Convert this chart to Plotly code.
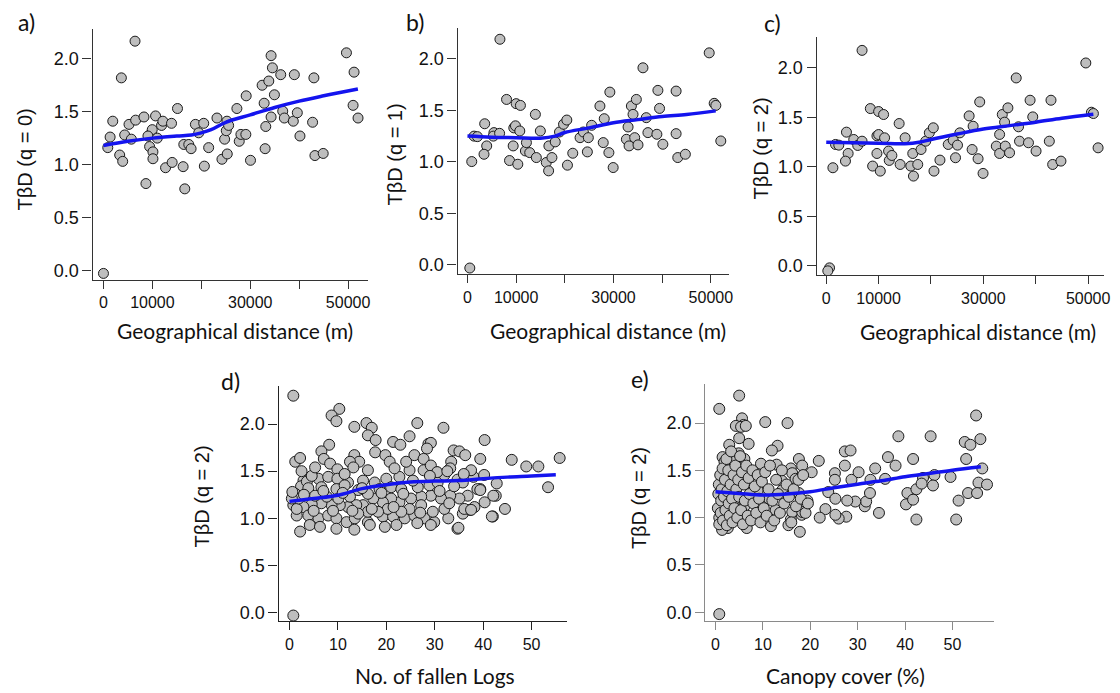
import plotly.graph_objects as go

# ---------------- DATA ----------------
a_pts = [(0,-0.03),(6450,2.167),(3660,1.82),(1900,1.41),(1360,1.26),(880,1.16),(3320,1.09),(3930,1.03),
         (4340,1.28),(5220,1.38),(5700,1.24),(6580,1.42),(8280,1.45),(8680,0.82),(9430,1.17),(9840,1.30),
         (9970,1.33),(10110,1.12),(10110,1.055),(9090,1.27),(10650,1.46),(11000,1.25),(11870,1.37),(12140,1.41),
         (12690,0.97),(13910,1.39),(14040,1.02),(15130,1.53),(16280,0.98),(16620,0.77),(16420,1.19),(17440,1.19),
         (17910,1.15),(18790,1.38),(19470,1.30),(20490,1.39),(20620,0.985),(21500,1.16),(23200,1.44),(24220,1.05),
         (24760,1.24),(25100,1.32),(25240,1.41),(25300,1.10),(25580,1.37),(27270,1.53),(27750,1.22),(28090,1.285),
         (29100,1.285),(29170,1.65),(30050,1.04),(33040,1.15),(33170,1.36),(32840,1.58),(32430,1.75),(33790,1.79),
         (34260,2.03),(34530,1.915),(34940,1.66),(34260,1.45),(36230,1.85),(36640,1.505),(36970,1.44),(39010,1.85),
         (38800,1.41),(39620,1.49),(40160,1.27),(43010,1.82),(42740,1.40),(43220,1.085),(44910,1.105),(49660,2.057),
         (51220,1.874),(51020,1.56),(52030,1.44)]
a_fit_x = [0,5000,10000,15000,18000,20000,22000,25000,30000,35000,40000,45000,52000]
a_fit_y = [1.18,1.22,1.25,1.27,1.28,1.30,1.33,1.40,1.47,1.54,1.60,1.65,1.715]

b_pts = [(480,-0.03),(6670,2.19),(880,1.003),(1360,1.25),(2040,1.245),(3540,1.37),(3950,1.155),(3400,1.074),
         (5440,1.284),(5310,1.25),(6600,1.277),(8030,1.606),(8640,1.013),(9520,1.33),(9860,1.35),(9390,1.155),
         (10000,1.565),(10340,0.977),(10880,1.548),(10750,1.30),(11900,1.106),(12110,1.187),(12790,1.09),(13950,1.461),
         (14150,1.042),(14970,1.30),(16190,0.994),(16670,0.913),(16730,1.155),(17350,1.042),(18030,1.194),(18910,1.29),
         (19730,1.365),(20410,1.406),(20540,0.968),(21630,1.084),(23130,1.235),(23810,1.29),(24630,1.097),(24830,1.235),
         (25510,1.355),(27210,1.542),(27890,1.187),(28100,1.419),(29050,1.09),(29250,1.677),(29930,0.945),(32650,1.219),
         (33200,1.155),(32990,1.339),(33670,1.542),(34010,1.461),(34690,1.606),(34350,1.235),(35030,1.165),(36050,1.913),
         (36730,1.429),(37070,1.284),(38910,1.268),(39120,1.694),(39460,1.519),(40140,1.171),(42860,1.274),(42860,1.687),
         (43200,1.042),(44760,1.074),(49660,2.058),(50680,1.568),(51020,1.548),(52040,1.203)]
b_fit_x = [0,5000,10000,15000,18000,20000,25000,30000,35000,40000,45000,51000]
b_fit_y = [1.25,1.24,1.235,1.23,1.25,1.285,1.33,1.38,1.41,1.44,1.46,1.495]

c_pts = [(630,-0.02),(300,-0.05),(6840,2.174),(1270,0.99),(1770,1.225),(2400,1.218),(3860,1.349),(4180,1.134),
         (3670,1.057),(5250,1.275),(6010,1.215),(6840,1.258),(8420,1.587),(8860,1.007),(9680,1.312),(10000,1.325),
         (9680,1.134),(10000,1.557),(10320,0.956),(10950,1.527),(11140,1.292),(11900,1.158),(12030,1.064),(12530,1.114),
         (13920,1.436),(14110,1.023),(15060,1.292),(16140,1.007),(16650,0.906),(16520,1.134),(17470,1.023),(18100,1.174),
         (18990,1.258),(19680,1.342),(20440,1.393),(20570,0.956),(21710,1.067),(23290,1.225),(24240,1.268),(24680,1.091),
         (25060,1.218),(25510,1.342),(27280,1.513),(27850,1.174),(28040,1.409),(28990,1.081),(29300,1.654),(29940,0.933),
         (32470,1.208),(33100,1.134),(33100,1.326),(33610,1.527),(34050,1.45),(34680,1.594),(34180,1.208),(35000,1.141),
         (36270,1.896),(36710,1.403),(36900,1.258),(38610,1.242),(38920,1.671),(39430,1.503),(40060,1.158),(42590,1.258),
         (42910,1.671),(43230,1.023),(44810,1.057),(49560,2.047),(50630,1.55),(51010,1.537),(51900,1.191)]
c_fit_x = [0,10000,15000,18000,20000,25000,30000,35000,40000,45000,51000]
c_fit_y = [1.248,1.237,1.232,1.25,1.275,1.33,1.38,1.415,1.45,1.49,1.53]

d_pts = [(0.8,2.30),(0.8,-0.03),(10.3,2.16),(8.7,2.09),(9.7,2.03),(13.4,1.97),(15.9,2.01),(17.0,1.96),(16.2,1.88),
         (17.8,1.83),(26.4,2.01),(31.8,1.96),(24.8,1.87),(21.4,1.81),(22.9,1.78),(28.7,1.79),(29.2,1.80),(28.4,1.74),
         (40.3,1.83),(8.2,1.78),(6.6,1.71),(7.1,1.63),(8.4,1.58),(1.2,1.60),(2.2,1.64),(13.4,1.67),(14.4,1.60),
         (17.7,1.70),(19.8,1.67),(20.7,1.60),(25.8,1.67),(27.7,1.63),(33.9,1.72),(35.1,1.71),(36.3,1.67),(33.4,1.60),
         (39.4,1.63),(45.9,1.62),(48.9,1.55),(51.4,1.55),(55.8,1.64),(53.4,1.33),
         (12.5,1.60),(13.2,1.54),(9.9,1.52),(2.9,1.40),(2.4,1.34),(1.2,1.26),(0.8,1.14),(1.5,1.03),(2.2,0.86),
         (3.6,1.39),(6.0,1.42),(8.0,1.44),(9.9,1.42),(12.1,1.38),(15.2,1.40),(17.6,1.38),(20.0,1.42),(22.7,1.44),
         (24.8,1.51),(27.7,1.51),(30.3,1.49),(33.2,1.53),(34.7,1.41),(38.0,1.44),(42.8,1.37),(42.6,1.24),(39.4,1.31),
         (36.8,1.24),(35.1,1.21),(33.2,1.24),(31.3,1.21),(29.2,1.24),(27.2,1.23),(25.1,1.21),(22.7,1.17),(21.0,1.21),
         (19.3,1.17),(17.3,1.21),(15.2,1.14),(13.8,1.14),(12.1,1.12),(10.4,1.14),(8.7,1.14),(6.6,1.16),(4.6,1.15),
         (2.9,1.12),(1.5,1.10),(3.9,1.03),(6.0,1.00),(8.0,1.03),(9.7,1.00),(11.8,0.96),(13.5,1.00),(16.2,0.96),
         (19.3,1.02),(21.4,1.02),(23.8,1.00),(25.8,1.03),(27.9,1.00),(29.9,0.96),(32.8,1.00),(35.8,1.05),(37.3,1.09),
         (40.3,1.17),(42.0,1.02),(44.5,1.10),(34.7,0.89),(29.2,0.93),(26.4,0.95),(22.1,0.93),(19.7,0.91),(16.6,0.93),
         (13.4,0.88),(9.7,0.89),(4.2,0.93),(6.3,0.91),(3.9,1.32),(6.6,1.33),(9.7,1.31),(11.4,1.35),(14.2,1.30),
         (16.2,1.26),(18.6,1.31),(21.0,1.33),(23.1,1.31),(26.5,1.33),(28.9,1.35),(30.6,1.38),(35.8,1.38),(38.8,1.31),
         (42.1,1.24),(38.2,1.12),(36.1,1.10),(32.0,1.10),(29.6,1.07),(27.2,1.14),(24.8,1.10),(23.1,1.07),(20.3,1.10),
         (18.3,1.07),(16.2,1.07),(14.2,1.05),(5.3,1.24),(7.7,1.23),(10.1,1.21),(12.5,1.23),(1.9,1.21),(0.5,1.21),
         (0.6,1.28),(4.6,1.45),(2.5,1.50),(5.3,1.54),(11.4,1.47),(16.2,1.51),(21.7,1.53),(24.1,1.60),(29.2,1.56),
         (32.0,1.46),(37.5,1.51),(40.2,1.46),(39.4,1.30),(34.9,0.90),(41.8,1.02),(37.5,1.09),(30.5,1.49),(32.6,1.50),
         (3.0,1.25),(5.0,1.08),(7.0,1.29),(9.0,1.08),(11.0,1.27),(13.0,1.08),(15.0,1.32),(17.0,1.10),(19.0,1.27),
         (21.5,1.12),(23.5,1.26),(25.5,1.40),(27.0,1.06),(29.0,1.45),(31.0,1.29),(33.0,1.16),(34.0,1.34),(36.0,1.47)]
d_fit_x = [0,5,10,15,20,25,30,35,40,45,50,55]
d_fit_y = [1.18,1.21,1.245,1.315,1.357,1.385,1.395,1.40,1.42,1.437,1.448,1.462]

e_pts = [(0.8,2.15),(0.8,-0.02),(5.0,2.29),(5.6,2.05),(5.9,1.98),(4.3,1.97),(5.4,1.96),(5.0,1.84),(6.4,1.97),
         (7.0,1.78),(2.9,1.77),(10.5,2.01),(15.2,2.00),(13.1,1.76),(11.9,1.71),(1.5,1.64),(1.9,1.59),(3.8,1.60),
         (4.9,1.68),(6.1,1.62),(9.6,1.57),(12.9,1.56),(15.9,1.52),(17.6,1.62),(18.3,1.55),(20.3,1.48),(21.8,1.60),
         (27.3,1.70),(28.5,1.71),(27.3,1.55),(25.2,1.47),(25.2,1.40),(28.7,1.40),(30.2,1.48),(33.7,1.52),(32.7,1.40),
         (35.8,1.41),(36.4,1.64),(38.0,1.55),(38.6,1.86),(41.7,1.62),(43.8,1.42),(45.4,1.86),(46.2,1.45),(49.6,1.43),
         (52.6,1.80),(52.9,1.62),(53.8,1.77),(55.0,2.08),(55.9,1.83),(56.3,1.52),(55.5,1.37),(57.3,1.35),(53.3,1.26),
         (55.2,1.26),(51.3,1.18),(50.8,0.98),(42.4,0.98),(40.2,1.14),(40.5,1.26),(42.4,1.30),(43.5,1.36),(45.9,1.34),
         (41.7,1.19),(34.5,1.05),(31.5,1.12),(31.8,1.17),(32.6,1.26),(29.5,1.17),(27.8,1.18),(27.6,1.01),(26.0,0.99),
         (25.3,1.03),(23.2,1.09),(22.0,1.00),(23.8,1.27),(25.3,1.20),(19.4,1.18),(18.2,1.03),(17.8,0.85),(15.9,0.98),
         (15.4,0.92),(11.7,0.91),(6.6,0.89),(2.6,0.89),(1.4,0.87),(0.8,1.00),(8.5,1.00),(6.1,1.12),(2.2,1.13),
         (1.9,1.36),(4.0,1.19),(4.2,1.27),(3.1,1.49),(14.0,1.39),(16.2,1.47),(16.9,1.41),(10.6,1.27),(8.9,1.29),
         (11.3,1.20),(12.7,1.08),(16.2,1.06),(18.3,1.06),(14.1,1.29),(17.6,1.26),
         (0.5,1.10),(0.6,1.25),(0.7,1.35),(0.8,0.93),(1.0,1.45),(1.1,1.05),(1.2,1.18),(1.3,1.30),(1.5,1.52),
         (1.6,0.97),(1.8,1.22),(2.0,1.40),(2.1,1.08),(2.3,1.62),(2.4,0.92),(2.5,1.28),(2.7,1.50),(2.8,1.15),
         (3.0,1.02),(3.2,1.35),(3.3,1.70),(3.5,1.20),(3.6,0.95),(3.8,1.45),(4.0,1.10),(4.2,1.55),(4.4,1.30),
         (4.6,1.00),(4.8,1.40),(5.0,1.22),(5.2,1.65),(5.4,1.08),(5.6,1.48),(5.8,0.93),(6.0,1.35),(6.2,1.18),
         (6.5,1.55),(6.8,1.02),(7.0,1.42),(7.2,1.25),(7.5,0.97),(7.8,1.50),(8.0,1.15),(8.3,1.33),(8.6,1.05),
         (8.9,1.45),(9.2,1.20),(9.5,0.95),(9.8,1.38),(10.2,1.10),(10.5,1.48),(10.8,1.02),(11.2,1.30),(11.5,1.55),
         (12.0,1.18),(12.4,0.97),(12.8,1.40),(13.2,1.25),(13.6,1.05),(14.0,1.50),(14.5,1.15),(15.0,1.35),(15.5,1.22),
         (16.0,0.95),(16.5,1.30),(17.0,1.12),(17.5,1.40),(18.0,1.20),(18.5,1.45),(19.0,1.05),(19.5,1.15)]
e_fit_x = [0,5,10,15,20,25,30,35,40,45,50,56]
e_fit_y = [1.274,1.256,1.239,1.249,1.274,1.316,1.354,1.389,1.432,1.467,1.502,1.537]

panel_labels = ["a)", "b)", "c)", "d)", "e)"]
y_titles = ["TβD (q = 0)", "TβD (q = 1)", "TβD (q = 2)", "TβD (q = 2)", "TβD (q = 2)"]
x_titles = ["Geographical distance (m)"] * 3 + ["No. of fallen Logs", "Canopy cover (%)"]
geo_ticks = [0, 10000, 20000, 30000, 40000, 50000]
geo_ticktext = ["0", "10000", "", "30000", "", "50000"]
small_ticks = [0, 10, 20, 30, 40, 50]
y_ticks = [0.0, 0.5, 1.0, 1.5, 2.0]

# ---------------- LAYOUT (pixels) ----------------
W, H = 1120, 693
boxes = [(93, 370, 29, 281), (460, 733, 28, 275), (821, 1110, 37, 276),
         (280, 570, 387, 623), (709, 999, 385, 623)]
xranges = [[-2240, 54070], [-2040, 53740], [-1840, 53040], [-2.26, 57.3], [-2.17, 58.7]]
yranges = [[-0.094, 2.283], [-0.09, 2.30], [-0.094, 2.31], [-0.09, 2.404], [-0.095, 2.414]]
label_pos = [(27, 22), (417, 22), (777, 23), (232, 382), (643, 380)]
ytitle_pos = [(25, 160), (397, 155), (765, 149), (203, 498), (642, 500)]
xtitle_pos = [(236, 331), (611, 331), (983, 332), (437, 677), (850, 677)]
axis_colors = ["#333333", "#333333", "#333333", "#222222", "#8a8a8a"]
msizes = [10, 10, 10, 11, 11]

datasets = [(a_pts, a_fit_x, a_fit_y), (b_pts, b_fit_x, b_fit_y), (c_pts, c_fit_x, c_fit_y),
            (d_pts, d_fit_x, d_fit_y), (e_pts, e_fit_x, e_fit_y)]

fig = go.Figure()
annotations = []
for i, (pts, fx, fy) in enumerate(datasets):
    n = i + 1
    xa = "x" if n == 1 else f"x{n}"
    ya = "y" if n == 1 else f"y{n}"
    xs = [p[0] for p in pts]
    ys = [p[1] for p in pts]
    fig.add_trace(go.Scatter(x=xs, y=ys, mode="markers", xaxis=xa, yaxis=ya, showlegend=False,
                             marker=dict(size=msizes[i], color="#BEBEBE",
                                         line=dict(color="#1a1a1a", width=1))))
    fig.add_trace(go.Scatter(x=fx, y=fy, mode="lines", xaxis=xa, yaxis=ya, showlegend=False,
                             line=dict(color="#1414EE", width=3.5, shape="spline")))
    l, r, t, b = boxes[i]
    xkey = "xaxis" if n == 1 else f"xaxis{n}"
    ykey = "yaxis" if n == 1 else f"yaxis{n}"
    if i < 3:
        xt = dict(tickmode="array", tickvals=geo_ticks, ticktext=geo_ticktext)
    else:
        xt = dict(tickmode="array", tickvals=small_ticks, ticktext=[str(v) for v in small_ticks])
    fig.update_layout(**{
        xkey: dict(domain=[l / W, r / W], range=xranges[i], anchor=ya, showgrid=False, zeroline=False,
                   showline=True, linecolor=axis_colors[i], linewidth=1.2, ticks="outside", ticklen=8,
                   tickcolor=axis_colors[i], tickwidth=1.2,
                   tickfont=dict(family="Liberation Sans, Arial", size=16, color="#111"),
                   **xt),
        ykey: dict(domain=[1 - b / H, 1 - t / H], range=yranges[i], anchor=xa, showgrid=False, zeroline=False,
                   showline=True, linecolor=axis_colors[i], linewidth=1.2, ticks="outside", ticklen=9,
                   tickcolor=axis_colors[i], tickwidth=1.2, tickmode="array", tickvals=y_ticks,
                   ticktext=[f"{v:.1f}" for v in y_ticks],
                   tickfont=dict(family="Liberation Sans, Arial", size=18, color="#111")),
    })
    px_, py_ = label_pos[i]
    annotations.append(dict(text=panel_labels[i], x=px_ / W, y=1 - py_ / H, xref="paper", yref="paper",
                            showarrow=False, xanchor="center", yanchor="middle",
                            font=dict(family="Lato, Open Sans", size=23, color="#111")))
    tx, ty = ytitle_pos[i]
    annotations.append(dict(text=y_titles[i], x=tx / W, y=1 - ty / H, xref="paper", yref="paper",
                            showarrow=False, xanchor="center", yanchor="middle", textangle=-90,
                            font=dict(family="Liberation Sans, Arial", size=20, color="#111")))
    gx, gy = xtitle_pos[i]
    annotations.append(dict(text=x_titles[i], x=gx / W, y=1 - gy / H, xref="paper", yref="paper",
                            showarrow=False, xanchor="center", yanchor="middle", borderpad=0,
                            font=dict(family="Lato, Open Sans", size=21, color="#111")))

fig.update_layout(width=W, height=H, autosize=False, margin=dict(l=0, r=0, t=0, b=0),
                  paper_bgcolor="white", plot_bgcolor="white", annotations=annotations)
fig.write_html("out.html", config={"displayModeBar": False},
               post_script="document.body.style.margin='0';document.body.style.padding='0';")
